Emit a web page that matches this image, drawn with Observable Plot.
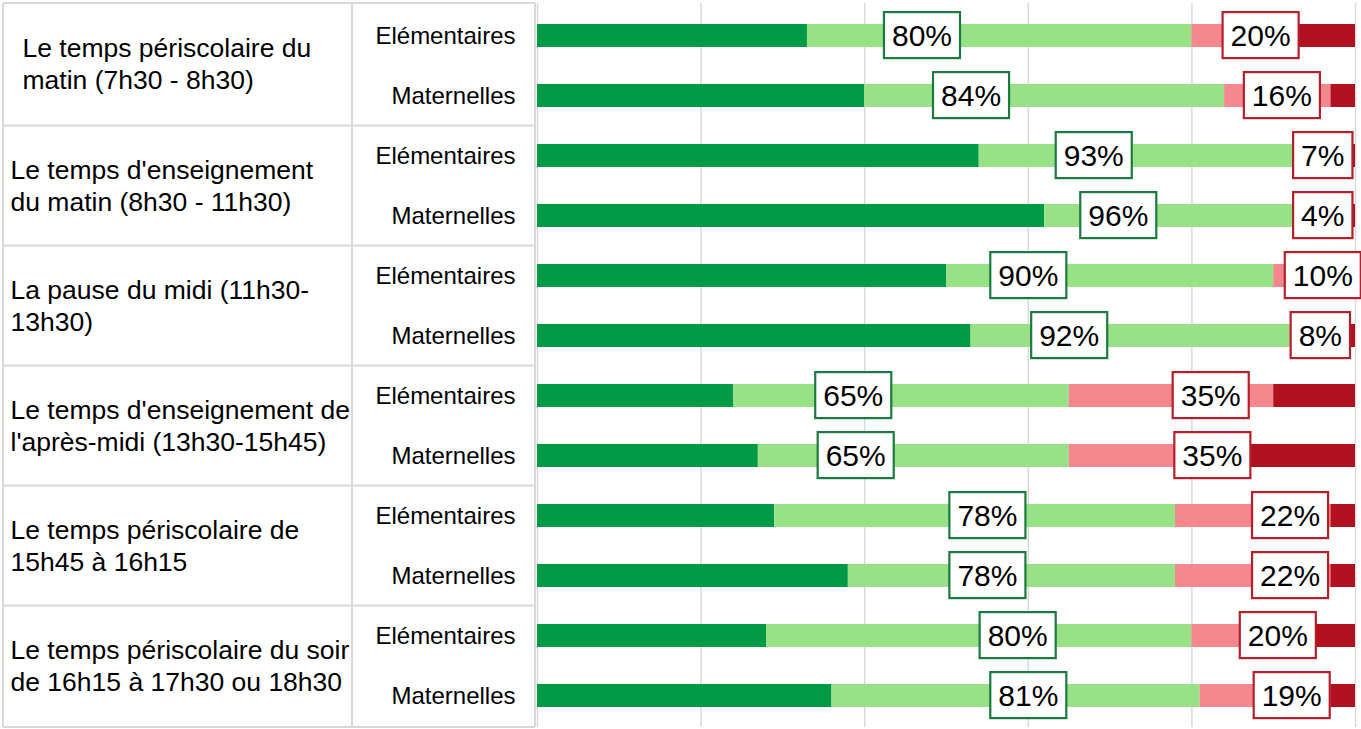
<!DOCTYPE html>
<html><head><meta charset="utf-8">
<script src="https://cdn.jsdelivr.net/npm/d3@7"></script>
<script src="https://cdn.jsdelivr.net/npm/@observablehq/plot@0.6"></script>
<style>body{margin:0;background:#fff;} #chart svg{display:block}</style>
</head><body><div id="chart"></div>
<script>
// ---- data ----
const groups = [
  "Le temps périscolaire du\nmatin (7h30 - 8h30)",
  "Le temps d'enseignement\ndu matin (8h30 - 11h30)",
  "La pause du midi (11h30-\n13h30)",
  "Le temps d'enseignement de\nl'après-midi (13h30-15h45)",
  "Le temps périscolaire de\n15h45 à 16h15",
  "Le temps périscolaire du soir\nde 16h15 à 17h30 ou 18h30"
];
const schools = ["Elémentaires", "Maternelles"];
const categories = ["Très satisfait", "Satisfait", "Insatisfait", "Très insatisfait"];
const tresSatisfait   = [33, 40, 54, 62, 50, 53, 24, 27, 29, 38, 28, 36];
const satisfait       = [47, 44, 39, 34, 40, 39, 41, 38, 49, 40, 52, 45];
const insatisfait     = [13, 13,  6,  3,  9,  7, 25, 21, 19, 19, 15, 16];
const tresInsatisfait = [ 7,  3,  1,  1,  1,  1, 10, 14,  3,  3,  5,  3];
// where the data labels sit (in % of the axis)
const posLabelAt = [47, 53, 68, 71, 60, 65, 38.6, 38.9, 55, 55, 58.7, 60];
const negLabelAt = [88.4, 91, 96, 96, 96, 95.7, 82.3, 82.5, 92, 92, 90.5, 92.2];
const gridTicks = [0, 20, 40, 60, 80, 100];

(function () {
// ---- build ----
const colors = ["#009a46", "#98e186", "#f5878f", "#b2111f"];
const series = [tresSatisfait, satisfait, insatisfait, tresInsatisfait];
const rows = d3.range(groups.length * schools.length);
const long = rows.flatMap(i => categories.map((c, k) => ({row: i, cat: c, value: series[k][i]})));

const W = 1361, H = 729, mT = 3, mB = 2, mL = 537, mR = 6;
const step = (H - mT - mB) / rows.length;
const font = "'Liberation Sans', Arial, sans-serif";

const plot = Plot.plot({
  width: W, height: H,
  marginLeft: mL, marginRight: mR, marginTop: mT, marginBottom: mB,
  style: {fontFamily: font, background: "#fff", color: "#000"},
  x: {domain: [0, 100], axis: null},
  y: {domain: rows, axis: null, paddingInner: 0.62, paddingOuter: 0.31},
  color: {domain: categories, range: colors},
  marks: [
    Plot.ruleX(gridTicks, {stroke: "#d9d9d9", strokeWidth: 1.5}),
    Plot.barX(long, Plot.stackX({x: "value", y: "row", fill: "cat"})),
    Plot.text(rows, {y: d => d, text: d => schools[d % 2], frameAnchor: "left", dx: -22,
      textAnchor: "end", fontSize: 24, fill: "#000"}),
    Plot.text([0], {y: d => 2 * d, text: d => groups[d], frameAnchor: "left", dx: -515, dy: step / 2 - 3,
      textAnchor: "start", fontSize: 26.5, lineHeight: 1.2, fill: "#000"}),
    Plot.text(d3.range(1, groups.length), {y: d => 2 * d, text: d => groups[d], frameAnchor: "left", dx: -527, dy: step / 2 - 1,
      textAnchor: "start", fontSize: 26.5, lineHeight: 1.2, fill: "#000"}),
    Plot.text(rows, {x: i => posLabelAt[i], y: i => i, text: i => (tresSatisfait[i] + satisfait[i]) + "%",
      fontSize: 30, fill: "#000", className: "pos-label"}),
    Plot.text(rows, {x: i => negLabelAt[i], y: i => i, text: i => (insatisfait[i] + tresInsatisfait[i]) + "%",
      fontSize: 30, fill: "#000", className: "neg-label"})
  ]
});
document.getElementById("chart").appendChild(plot);

// ---- label boxes ----
function boxes(cls, stroke) {
  d3.select(plot).selectAll("g." + cls + " text").each(function () {
    const b = this.getBBox();
    const cy = b.y + b.height / 2;
    const t = this;
    const r = d3.select(this.parentNode).insert("rect", () => t)
      .attr("x", b.x - 8).attr("y", cy - 23)
      .attr("width", b.width + 16).attr("height", 46)
      .attr("fill", "#fff").attr("stroke", stroke).attr("stroke-width", 2.2);
    const tr = t.getAttribute("transform");
    if (tr) r.attr("transform", tr);
  });
}
boxes("pos-label", "#1b7a3d");
boxes("neg-label", "#b4202a");

// ---- left table grid ----
const ys = plot.scale("y");
const bw = ys.bandwidth;
const gT = d3.select(plot).insert("g", ":first-child").attr("stroke", "#d9d9d9").attr("stroke-width", 2);
const yTop = ys.range[0], yBottom = ys.range[1];
const bounds = [yTop];
for (let g = 1; g < groups.length; g++) {
  bounds.push((ys.apply(2 * g - 1) + ys.apply(2 * g) + bw) / 2);
}
bounds.push(yBottom);
const xTableL = 3, xTableM = 352, xTableR = mL - 2;
bounds.forEach(y => gT.append("line").attr("x1", xTableL).attr("x2", xTableR).attr("y1", y).attr("y2", y));
[xTableL, xTableM, xTableR].forEach(x => gT.append("line").attr("x1", x).attr("x2", x).attr("y1", yTop).attr("y2", yBottom));
})();
</script>
</body></html>
